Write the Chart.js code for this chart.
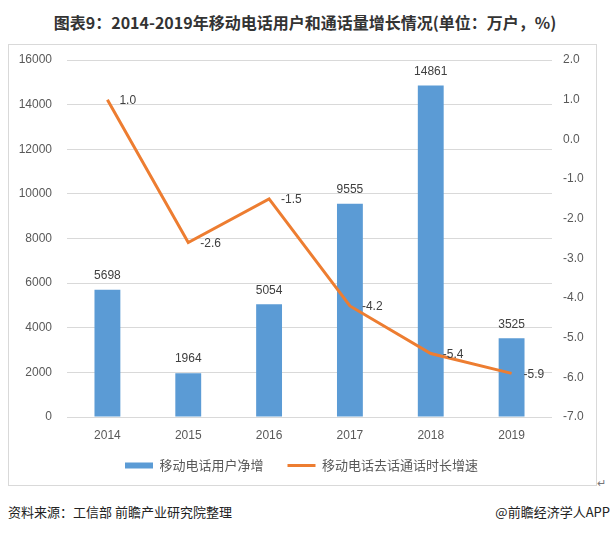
<!DOCTYPE html>
<html>
<head>
<meta charset="utf-8">
<script src="https://cdn.jsdelivr.net/npm/chart.js@4/dist/chart.umd.min.js"></script>
<style>
    body { margin: 0; width: 610px; height: 533px; background: #fff; font-family: "Noto Sans CJK SC", sans-serif; position: relative; overflow: hidden; }
    .title { position: absolute; top: 10px; left: 0; width: 610px; text-align: center; font-size: 16px; line-height: 24px; font-weight: bold; color: #333; }
    .box { position: absolute; left: 8px; top: 44px; width: 589px; height: 442px; border: 1px solid #d9d9d9; box-sizing: border-box; }
    .box canvas { display: block; }
    .mark { position: absolute; left: 597px; top: 474px; font-size: 11px; line-height: 16px; color: #777; }
    .src { position: absolute; left: 8px; top: 503px; font-size: 13px; line-height: 18px; color: #222; }
    .app { position: absolute; right: 0; top: 503px; font-size: 13px; line-height: 18px; color: #222; }
</style>
</head>
<body>
<div class="title">图表9：2014-2019年移动电话用户和通话量增长情况(单位：万户，%)</div>
<div class="box"><canvas id="c" width="587" height="440"></canvas></div>
<div class="mark">↵</div>
<div class="src">资料来源：工信部 前瞻产业研究院整理</div>
<div class="app">@前瞻经济学人APP</div>
<script>
// data
const years = ["2014", "2015", "2016", "2017", "2018", "2019"];
const net_users = [5698, 1964, 5054, 9555, 14861, 3525];
const call_growth = [1.0, -2.6, -1.5, -4.2, -5.4, -5.9];

const BLUE = "#5B9BD5";
const ORANGE = "#ED7D31";
const TXT = "#595959";
const NUM_FONT = "'Liberation Sans', Arial, sans-serif";
const CJK_FONT = "'Noto Sans CJK SC', sans-serif";

// tiny data label plugin (no datalabels plugin around)
const value_labels = {
    id: "value_labels",
    afterDatasetsDraw(chart) {
        const ctx = chart.ctx;
        const bars = chart.getDatasetMeta(1).data;
        const pts = chart.getDatasetMeta(0).data;
        ctx.save();
        ctx.font = "12px " + NUM_FONT;
        ctx.fillStyle = "#404040";
        bars.forEach((bar, i) => {
            ctx.textAlign = "center";
            ctx.textBaseline = "bottom";
            ctx.fillText(String(net_users[i]), bar.x, bar.y - 8);
        });
        pts.forEach((pt, i) => {
            ctx.textAlign = "left";
            ctx.textBaseline = "middle";
            ctx.fillText(call_growth[i].toFixed(1), pt.x + 12, pt.y + 1);
        });
        ctx.restore();
    }
};

// legend sits closer to the axis than chart.js puts it
const legend_up = {
    id: "legend_up",
    afterLayout(chart) {
        chart.legend.top -= 8;
        chart.legend.bottom -= 8;
    }
};

// chart.js pads the axes more than the original, so trim them
const tight_y = w => scale => {
    scale.width = w;
    scale.paddingTop = 0;
    scale.paddingBottom = 0;
};

Chart.defaults.color = TXT;

new Chart(document.getElementById("c").getContext("2d"), {
    data: {
        labels: years,
        datasets: [{
            type: "line",
            label: "移动电话去话通话时长增速",
            data: call_growth,
            yAxisID: "y2",
            borderColor: ORANGE,
            backgroundColor: ORANGE,
            borderWidth: 3,
            pointRadius: 0,
            pointStyle: "line",
            tension: 0,
            order: 0
        }, {
            type: "bar",
            label: "移动电话用户净增",
            data: net_users,
            yAxisID: "y",
            backgroundColor: BLUE,
            pointStyle: "rect",
            categoryPercentage: 1,
            barPercentage: 0.32,
            order: 1
        }]
    },
    options: {
        responsive: false,
        animation: false,
        layout: { padding: { left: 10, right: 12, top: 15, bottom: -5 } },
        scales: {
            x: {
                grid: { display: false, drawTicks: false },
                border: { display: false },
                ticks: { font: { size: 12, family: NUM_FONT }, padding: 11 },
                afterFit(scale) { scale.height = 26; }
            },
            y: {
                position: "left",
                min: 0, max: 16000,
                ticks: { stepSize: 2000, font: { size: 12, family: NUM_FONT }, padding: 15, callback: v => String(v) },
                grid: { color: "#d9d9d9", drawTicks: false },
                border: { display: false },
                afterFit: tight_y(48)
            },
            y2: {
                position: "right",
                min: -7, max: 2,
                ticks: { stepSize: 1, font: { size: 12, family: NUM_FONT }, padding: 11, callback: v => v.toFixed(1) },
                grid: { display: false, drawTicks: false },
                border: { display: false },
                afterFit: tight_y(32)
            }
        },
        plugins: {
            legend: {
                position: "bottom",
                reverse: true,
                labels: {
                    usePointStyle: true,
                    pointStyleWidth: 28,
                    boxHeight: 6,
                    padding: 24,
                    font: { size: 13, family: CJK_FONT },
                    color: TXT
                }
            },
            tooltip: { enabled: false }
        }
    },
    plugins: [value_labels, legend_up]
});
</script>
</body>
</html>
